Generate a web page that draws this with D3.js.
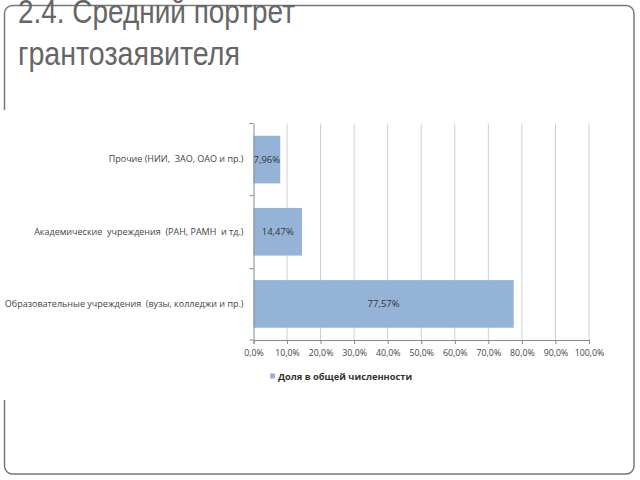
<!DOCTYPE html>
<html><head><meta charset="utf-8">
<script src="https://cdn.jsdelivr.net/npm/d3@7"></script>
<style>html,body{margin:0;padding:0;background:#fff;}svg{display:block;}</style>
</head><body>
<script>
const categories = ["Прочие (НИИ,  ЗАО, ОАО и пр.)", "Академические  учреждения  (РАН, РАМН  и тд.)", "Образовательные учреждения  (вузы, колледжи и пр.)"];
const values = [7.96, 14.47, 77.57];
const valueLabels = ["7,96%", "14,47%", "77,57%"];
const ticks = [0,10,20,30,40,50,60,70,80,90,100];
const tickLabels = ["0,0%","10,0%","20,0%","30,0%","40,0%","50,0%","60,0%","70,0%","80,0%","90,0%","100,0%"];
const seriesName = "Доля в общей численности";
const titleLines = ["2.4. Средний портрет", "грантозаявителя"];

const W = 640, H = 480;
const svg = d3.select("body").append("svg").attr("width", W).attr("height", H);

// slide frame
svg.append("rect").attr("x", 4.5).attr("y", 5.5).attr("width", 629.5).attr("height", 468.5)
  .attr("rx", 8).attr("fill", "none").attr("stroke", "#777").attr("stroke-width", 1.5);

// title
const titleWidths = [277, 222];
titleLines.forEach((t, i) => svg.append("text")
  .attr("font-family", "Liberation Sans, Arial, sans-serif")
  .attr("font-size", 34).attr("fill", "#666")
  .attr("x", 18).attr("y", 23 + i * 42)
  .attr("textLength", titleWidths[i]).attr("lengthAdjust", "spacingAndGlyphs")
  .text(t));

// chart image area (white, covers the frame's left edge)
svg.append("rect").attr("x", 0).attr("y", 110).attr("width", 632).attr("height", 290).attr("fill", "#fff");

const x = d3.scaleLinear().domain([0, 100]).range([253.5, 589]);
const y = d3.scaleBand().domain(categories).range([123.5, 340]).paddingInner(0.34).paddingOuter(0.17);

const font = "Open Sans, Liberation Sans, sans-serif";

// gridlines
svg.append("g").selectAll("line").data(ticks.slice(1)).join("line")
  .attr("x1", d => x(d)).attr("x2", d => x(d)).attr("y1", 123.5).attr("y2", 340)
  .attr("stroke", "#cfcfcf").attr("stroke-width", 1);

// bars
svg.append("g").selectAll("rect").data(values).join("rect")
  .attr("x", x(0)).attr("y", (d, i) => y(categories[i]))
  .attr("width", d => x(d) - x(0)).attr("height", y.bandwidth())
  .attr("fill", "#95b3d7");

// value labels
svg.append("g").selectAll("text").data(values).join("text")
  .attr("x", (d, i) => (x(0) + x(d)) / 2).attr("y", (d, i) => y(categories[i]) + y.bandwidth() / 2 + 3.5)
  .attr("text-anchor", "middle").attr("font-family", font).attr("font-size", 9.5).attr("fill", "#333")
  .text((d, i) => valueLabels[i]);

// x axis
const xAxis = svg.append("g").attr("transform", "translate(0,340)")
  .call(d3.axisBottom(x).tickValues(ticks).tickSize(4).tickFormat((d, i) => tickLabels[i]));
xAxis.select(".domain").attr("stroke", "#888");
xAxis.selectAll(".tick line").attr("stroke", "#888");
xAxis.selectAll(".tick text").attr("font-family", font).attr("font-size", 8.8).attr("fill", "#444").attr("dy", "1.05em");

// y axis
const yAxis = svg.append("g").attr("transform", "translate(253.5,0)")
  .call(d3.axisLeft(y).tickSize(0).tickPadding(10));
yAxis.select(".domain").attr("stroke", "#888");
yAxis.selectAll(".tick text").attr("font-family", font).attr("font-size", 9).attr("fill", "#444")
  .style("white-space", "pre");
// category boundary ticks
const bounds = [123.5, 195.7, 268.7, 340];
svg.append("g").selectAll("line").data(bounds).join("line")
  .attr("x1", 249.5).attr("x2", 253.5).attr("y1", d => d).attr("y2", d => d)
  .attr("stroke", "#888");

// legend
svg.append("rect").attr("x", 270).attr("y", 373.5).attr("width", 5).attr("height", 5).attr("fill", "#95b3d7");
svg.append("text").attr("x", 278).attr("y", 379.5).attr("font-family", font).attr("font-size", 9.3)
  .attr("font-weight", "bold").attr("fill", "#333").text(seriesName);
</script>
</body></html>
